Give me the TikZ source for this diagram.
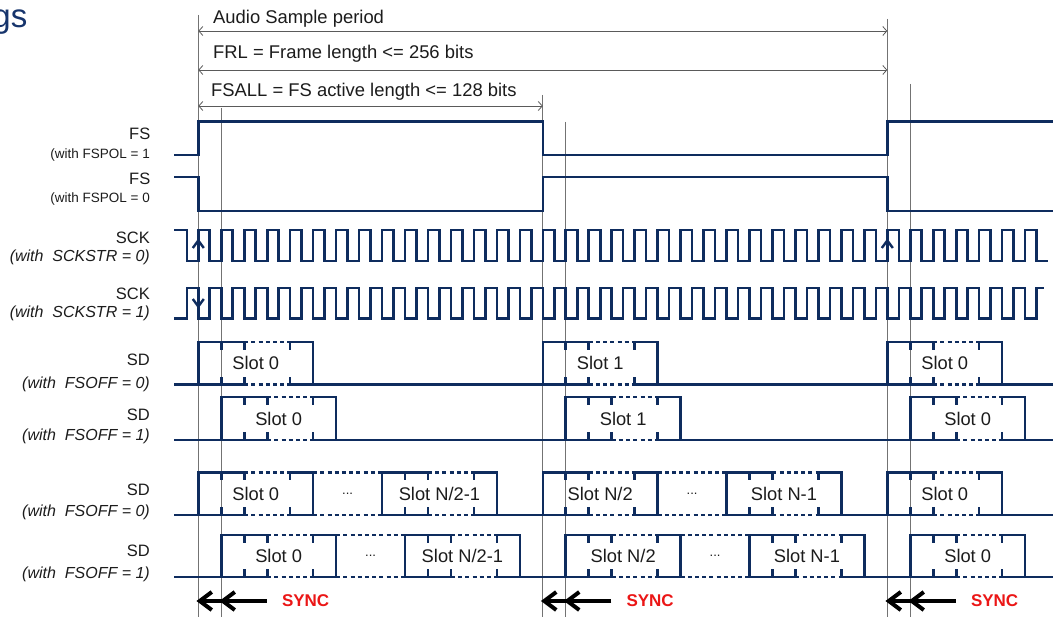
\documentclass[tikz,border=0pt]{standalone}
\usepackage{fontspec}
\setmainfont{Liberation Sans}
\usetikzlibrary{arrows.meta}
\definecolor{navy}{RGB}{14,44,94}
\definecolor{gridgray}{RGB}{115,115,115}
\definecolor{dimgray}{RGB}{90,90,90}
\definecolor{syncred}{RGB}{235,22,22}
\definecolor{txt}{RGB}{28,28,28}
\definecolor{titleblue}{RGB}{22,52,108}

\newcommand\slotbox[5]{% #1 x0, #2 top, #3 base, #4 label, #5 name
  \draw[sig] ({#1},{#3}) -- ({#1},{#2}) -- ({#1+2*\per},{#2});
  \draw[sigdash] ({#1+2*\per},{#2}) -- ({#1+4*\per},{#2});
  \draw[sig] ({#1+4*\per},{#2}) -- ({#1+5*\per},{#2}) -- ({#1+5*\per},{#3});
  \draw[sig] ({#1},{#3}) -- ({#1+2*\per},{#3});
  \draw[sigdash] ({#1+2*\per},{#3}) -- ({#1+4*\per},{#3});
  \draw[sig] ({#1+4*\per},{#3}) -- ({#1+5*\per},{#3});
  \foreach \t in {1,2,4} {
    \draw[sig] ({#1+\t*\per},{#2}) -- ++(0,6.5);
    \draw[sig] ({#1+\t*\per},{#3}) -- ++(0,-6.5);
  }
  \node[slottext] (#5) at ({#1+2.5*\per},{(#2+#3)/2}) {#4};
}
\newcommand\slotgroup[6]{% #1 x0, #2 top, #3 base, #4 label1, #5 label2, #6 name
  \slotbox{#1}{#2}{#3}{#4}{#6a}
  \draw[sigdash] ({#1+5*\per},{#2}) -- ({#1+8*\per},{#2});
  \draw[sigdash] ({#1+5*\per},{#3}) -- ({#1+8*\per},{#3});
  \node[dotstext] (#6d) at ({#1+6.5*\per},{(#2+#3)/2}) {...};
  \slotbox{#1+8*\per}{#2}{#3}{#5}{#6b}
}
\newcommand\syncmark[2]{% #1 x of first apex, #2 name
  \coordinate (#2a) at ({#1},601);
  \coordinate (#2b) at ({#1+\per},601);
  \coordinate (#2e) at ({#1+67},601);
  \draw[syncline] (#2e) -- (#2a);
  \draw[chev] ([shift={(12,-9)}]#2a) -- (#2a) -- ([shift={(12,9)}]#2a);
  \draw[chev] ([shift={(12,-9)}]#2b) -- (#2b) -- ([shift={(12,9)}]#2b);
  \node[synctext] (#2t) at ({#1+82},601) {SYNC};
}

\begin{document}
\begin{tikzpicture}[x=1pt,y=-1pt,
  sig/.style={draw=navy, line width=2.6pt, line join=miter, line cap=rect},
  sigdash/.style={draw=navy, line width=2.6pt, dash pattern=on 4pt off 3.2pt},
  gridline/.style={draw=gridgray, line width=0.9pt},
  dimline/.style={draw=dimgray, line width=0.8pt,
     {Straight Barb[length=4pt,width=9pt]}-{Straight Barb[length=4pt,width=9pt]}},
  toptext/.style={font=\fontsize{18.4}{20}\selectfont, text=txt, anchor=base west, inner sep=0},
  signame/.style={font=\fontsize{16.5}{18}\selectfont, text=txt, anchor=base east, inner sep=0},
  signote/.style={font=\fontsize{16}{18}\selectfont\itshape, text=txt, anchor=base east, inner sep=0},
  fsnote/.style={font=\fontsize{13.5}{15}\selectfont, text=txt, anchor=base east, inner sep=0},
  slottext/.style={font=\fontsize{18.3}{20}\selectfont, text=txt, inner sep=0},
  dotstext/.style={font=\fontsize{13}{14}\selectfont, text=txt, inner sep=0},
  synctext/.style={font=\fontsize{17}{19}\selectfont\bfseries, text=syncred, anchor=west, inner sep=0},
  syncline/.style={draw=black, line width=4pt},
  chev/.style={draw=black, line width=4pt, line join=miter},
  edgechev/.style={draw=navy, line width=2.4pt, line join=miter}
]
\useasboundingbox[fill=white] (0,0) rectangle (1053,617);
\pgfmathsetmacro\per{22.967}
\pgfmathsetmacro\xA{198.3}
\pgfmathsetmacro\xB{\xA+\per}
\pgfmathsetmacro\xC{\xA+15*\per}
\pgfmathsetmacro\xD{\xC+\per}
\pgfmathsetmacro\xE{\xA+30*\per}
\pgfmathsetmacro\xF{\xE+\per}

% title fragment
\node[font=\fontsize{33}{36}\selectfont, text=titleblue, anchor=base east, inner sep=0] (title) at (27.5,28) {gs};

% grid lines
\coordinate (gAt) at (\xA,15);   \coordinate (gAb) at (\xA,617);
\coordinate (gBt) at (\xB,108);  \coordinate (gBb) at (\xB,617);
\coordinate (gCt) at (\xC,95);   \coordinate (gCb) at (\xC,617);
\coordinate (gDt) at (\xD,122);  \coordinate (gDb) at (\xD,617);
\coordinate (gEt) at (\xE,19);   \coordinate (gEb) at (\xE,617);
\coordinate (gFt) at (\xF,84);   \coordinate (gFb) at (\xF,617);
\foreach \g in {A,B,C,D,E,F} { \draw[gridline] (g\g t) -- (g\g b); }

% dimension arrows
\coordinate (d1l) at (\xA,31);  \coordinate (d1r) at (\xE,31);
\coordinate (d2l) at (\xA,70);  \coordinate (d2r) at (\xE,70);
\coordinate (d3l) at (\xA,106); \coordinate (d3r) at (\xC,106);
\draw[dimline] (d1l) -- (d1r);
\draw[dimline] (d2l) -- (d2r);
\draw[dimline] (d3l) -- (d3r);
\node[toptext] (t1) at (213,23.5) {Audio Sample period};
\node[toptext] (t2) at (213,58.3) {FRL = Frame length <= 256 bits};
\node[toptext] (t3) at (211,96.7) {FSALL = FS active length <= 128 bits};

% labels
\node[signame] (lfs1) at (150.5,140) {FS};
\node[fsnote] (nfs1) at (150,158.3) {(with FSPOL = 1};
\node[signame] (lfs0) at (150.5,185) {FS};
\node[fsnote] (nfs0) at (150,202.5) {(with FSPOL = 0};
\node[signame] (lsck0) at (150,243.5) {SCK};
\node[signote] (nsck0) at (150,262) {(with~ SCKSTR = 0)};
\node[signame] (lsck1) at (150,299.5) {SCK};
\node[signote] (nsck1) at (150,317.5) {(with~ SCKSTR = 1)};
\node[signame] (lsd1) at (150,366) {SD};
\node[signote] (nsd1) at (150,388.5) {(with~ FSOFF = 0)};
\node[signame] (lsd2) at (150,421) {SD};
\node[signote] (nsd2) at (150,441) {(with~ FSOFF = 1)};
\node[signame] (lsd3) at (150,496) {SD};
\node[signote] (nsd3) at (150,517) {(with~ FSOFF = 0)};
\node[signame] (lsd4) at (150,556) {SD};
\node[signote] (nsd4) at (150,578.5) {(with~ FSOFF = 1)};

% FS signals
\draw[sig] (175,155) -- (\xA,155) -- (\xA,121.5) -- (\xC,121.5) -- (\xC,155) -- (\xE,155) -- (\xE,121.5) -- (1053,121.5);
\draw[sig] (175,177) -- (\xA,177) -- (\xA,211) -- (\xC,211) -- (\xC,177) -- (\xE,177) -- (\xE,211) -- (1053,211);

% SCK signals
\draw[sig] ({\xA-\per},230) foreach \k in {1,...,37} { -- ++({\per/2},0) -- ++(0,31) -- ++({\per/2},0) -- ++(0,-31) } -- ++({\per/2},0) -- ++(0,31) -- ++(10.5,0);
\draw[sig] ({\xA-\per},318.5) foreach \k in {1,...,37} { -- ++({\per/2},0) -- ++(0,-30.5) -- ++({\per/2},0) -- ++(0,30.5) } -- ++({\per/2},0) -- ++(0,-30.5) -- ++(6.5,0);
\draw[edgechev] ({\xA-5.5},248) -- (\xA,240.5) -- ({\xA+5.5},248);
\draw[edgechev] ({\xE-5.5},248) -- (\xE,240.5) -- ({\xE+5.5},248);
\draw[edgechev] ({\xA-5.5},299) -- (\xA,306.5) -- ({\xA+5.5},299);

% SD row 1
\def\rt{342}\def\rb{384.5}
\draw[sig] (175,\rb) -- (\xA,\rb);
\slotbox{\xA}{\rt}{\rb}{Slot 0}{r1a}
\draw[sig] ({\xA+5*\per},\rb) -- (\xC,\rb);
\slotbox{\xC}{\rt}{\rb}{Slot 1}{r1b}
\draw[sig] ({\xC+5*\per},\rb) -- (\xE,\rb);
\slotbox{\xE}{\rt}{\rb}{Slot 0}{r1c}
\draw[sig] ({\xE+5*\per},\rb) -- (1053,\rb);

% SD row 2
\def\rt{397}\def\rb{440}
\draw[sig] (175,\rb) -- (\xB,\rb);
\slotbox{\xB}{\rt}{\rb}{Slot 0}{r2a}
\draw[sig] ({\xB+5*\per},\rb) -- (\xD,\rb);
\slotbox{\xD}{\rt}{\rb}{Slot 1}{r2b}
\draw[sig] ({\xD+5*\per},\rb) -- (\xF,\rb);
\slotbox{\xF}{\rt}{\rb}{Slot 0}{r2c}
\draw[sig] ({\xF+5*\per},\rb) -- (1053,\rb);

% SD row 3
\def\rt{472.5}\def\rb{515}
\draw[sig] (175,\rb) -- (\xA,\rb);
\slotgroup{\xA}{\rt}{\rb}{Slot 0}{Slot N/2-1}{r3a}
\draw[sig] ({\xA+13*\per},\rb) -- (\xC,\rb);
\slotgroup{\xC}{\rt}{\rb}{Slot N/2}{Slot N-1}{r3b}
\draw[sig] ({\xC+13*\per},\rb) -- (\xE,\rb);
\slotbox{\xE}{\rt}{\rb}{Slot 0}{r3c}
\draw[sig] ({\xE+5*\per},\rb) -- (1053,\rb);

% SD row 4
\def\rt{535}\def\rb{577}
\draw[sig] (175,\rb) -- (\xB,\rb);
\slotgroup{\xB}{\rt}{\rb}{Slot 0}{Slot N/2-1}{r4a}
\draw[sig] ({\xB+13*\per},\rb) -- (\xD,\rb);
\slotgroup{\xD}{\rt}{\rb}{Slot N/2}{Slot N-1}{r4b}
\draw[sig] ({\xD+13*\per},\rb) -- (\xF,\rb);
\slotbox{\xF}{\rt}{\rb}{Slot 0}{r4c}
\draw[sig] ({\xF+5*\per},\rb) -- (1053,\rb);

% SYNC markers
\syncmark{\xA+1.5}{s1}
\syncmark{\xC+1.5}{s2}
\syncmark{\xE+1.5}{s3}
\end{tikzpicture}
\end{document}
